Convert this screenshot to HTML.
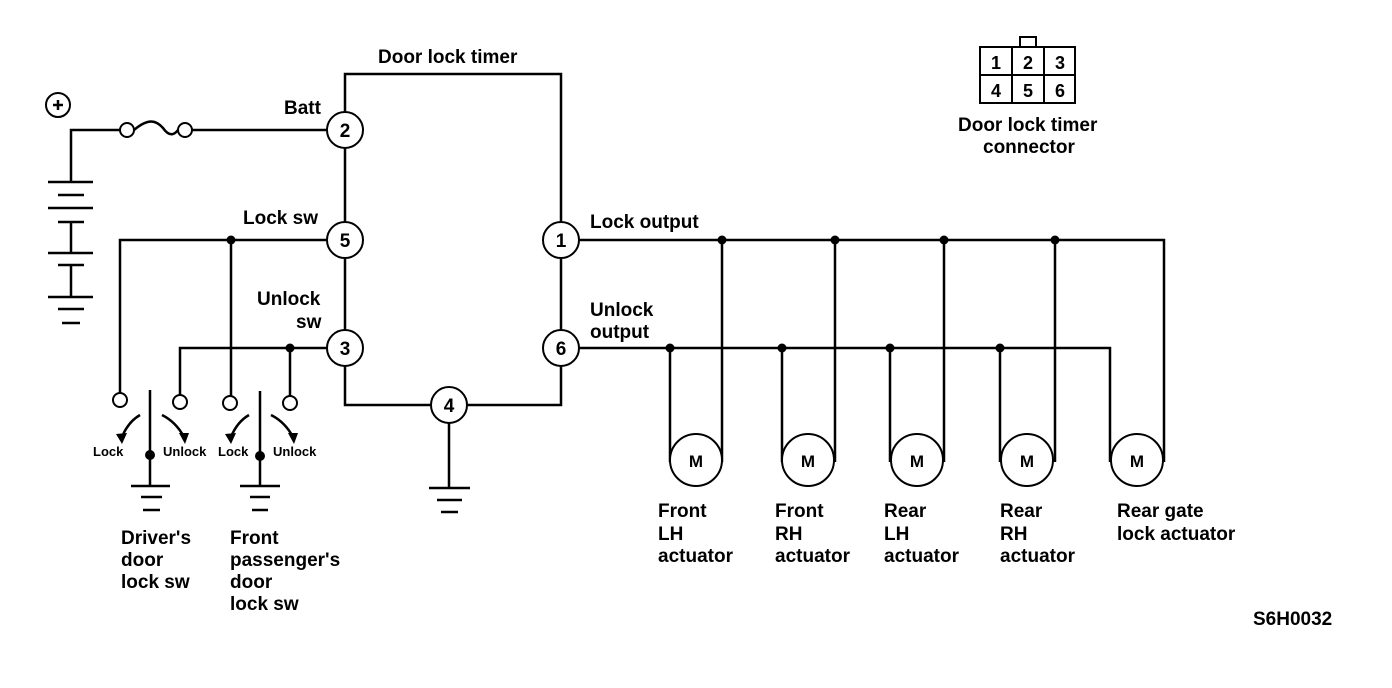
<!DOCTYPE html>
<html><head><meta charset="utf-8"><style>
html,body{margin:0;padding:0;background:#fff;}
svg{display:block;}
text{font-family:"Liberation Sans",sans-serif;font-size:19px;font-weight:bold;fill:#000;}
.s{font-size:13px;}
</style></head><body>
<svg width="1392" height="688" viewBox="0 0 1392 688" xmlns="http://www.w3.org/2000/svg">
<g stroke="#000" stroke-width="2.5" fill="none">
<polyline points="345,112 345,74 561,74 561,222"/>
<line x1="345" y1="148" x2="345" y2="222"/>
<line x1="345" y1="258" x2="345" y2="330"/>
<polyline points="345,366 345,405 431,405"/>
<polyline points="561,366 561,405 467,405"/>
<line x1="561" y1="258" x2="561" y2="330"/>
<line x1="449" y1="423" x2="449" y2="488"/>
<line x1="429" y1="488" x2="470" y2="488"/>
<line x1="437" y1="500" x2="462" y2="500"/>
<line x1="441" y1="512" x2="458" y2="512"/>
<polyline points="120,130 71,130 71,182"/>
<line x1="327" y1="130" x2="192" y2="130"/>
<path d="M134,130 C148,118 156,120 163,128 C170,138 175,134 178,130"/>
<line x1="48" y1="182" x2="93" y2="182"/>
<line x1="58" y1="195" x2="84" y2="195"/>
<line x1="48" y1="208" x2="93" y2="208"/>
<line x1="58" y1="222" x2="84" y2="222"/>
<line x1="71" y1="222" x2="71" y2="253"/>
<line x1="48" y1="253" x2="93" y2="253"/>
<line x1="58" y1="265" x2="84" y2="265"/>
<line x1="71" y1="265" x2="71" y2="297"/>
<line x1="48" y1="297" x2="93" y2="297"/>
<line x1="58" y1="309" x2="84" y2="309"/>
<line x1="62" y1="323" x2="80" y2="323"/>
<polyline points="327,240 120,240 120,393"/>
<line x1="231" y1="240" x2="231" y2="396"/>
<polyline points="327,348 180,348 180,395"/>
<line x1="290" y1="348" x2="290" y2="396"/>
<line x1="150" y1="390" x2="150" y2="486"/>
<line x1="260" y1="391" x2="260" y2="486"/>
<line x1="131" y1="486" x2="170" y2="486"/>
<line x1="141" y1="497" x2="162" y2="497"/>
<line x1="143" y1="510" x2="160" y2="510"/>
<line x1="240" y1="486" x2="280" y2="486"/>
<line x1="250" y1="497" x2="270" y2="497"/>
<line x1="252" y1="510" x2="268" y2="510"/>
<path d="M140,415 Q128,422 122,437"/>
<path d="M162,415 Q176,422 184,437"/>
<path d="M249,415 Q237,422 231,437"/>
<path d="M271,415 Q285,422 293,437"/>
<polyline points="579,240 1164,240 1164,462"/>
<polyline points="579,348 1110,348 1110,462"/>
<line x1="670" y1="348" x2="670" y2="462"/><line x1="722" y1="240" x2="722" y2="462"/>
<line x1="782" y1="348" x2="782" y2="462"/><line x1="835" y1="240" x2="835" y2="462"/>
<line x1="890" y1="348" x2="890" y2="462"/><line x1="944" y1="240" x2="944" y2="462"/>
<line x1="1000" y1="348" x2="1000" y2="462"/><line x1="1055" y1="240" x2="1055" y2="462"/>
</g>
<g stroke="#000" stroke-width="2" fill="#fff">
<circle cx="58" cy="105" r="12"/>
<circle cx="127" cy="130" r="7"/><circle cx="185" cy="130" r="7"/>
<circle cx="345" cy="130" r="18"/><circle cx="345" cy="240" r="18"/><circle cx="345" cy="348" r="18"/>
<circle cx="561" cy="240" r="18"/><circle cx="561" cy="348" r="18"/><circle cx="449" cy="405" r="18"/>
<circle cx="120" cy="400" r="7"/><circle cx="180" cy="402" r="7"/>
<circle cx="230" cy="403" r="7"/><circle cx="290" cy="403" r="7"/>
<circle cx="696" cy="460" r="26"/><circle cx="808" cy="460" r="26"/><circle cx="917" cy="460" r="26"/>
<circle cx="1027" cy="460" r="26"/><circle cx="1137" cy="460" r="26"/>
<rect x="980" y="47" width="95" height="56"/>
<rect x="1020" y="37" width="16" height="10"/>
<line x1="1012" y1="47" x2="1012" y2="103"/><line x1="1044" y1="47" x2="1044" y2="103"/>
<line x1="980" y1="75" x2="1075" y2="75"/>
</g>
<g fill="#000">
<path d="M53,105 h10 M58,100 v10" stroke="#000" stroke-width="2.5"/>
<circle cx="231" cy="240" r="4.5"/><circle cx="290" cy="348" r="4.5"/>
<circle cx="150" cy="455" r="5"/><circle cx="260" cy="456" r="5"/>
<circle cx="722" cy="240" r="4.5"/><circle cx="835" cy="240" r="4.5"/><circle cx="944" cy="240" r="4.5"/><circle cx="1055" cy="240" r="4.5"/>
<circle cx="670" cy="348" r="4.5"/><circle cx="782" cy="348" r="4.5"/><circle cx="890" cy="348" r="4.5"/><circle cx="1000" cy="348" r="4.5"/>
<path d="M116,434 L122,444 L127,433 Z"/><path d="M179,433 L185,444 L189,433 Z"/>
<path d="M225,434 L231,444 L236,433 Z"/><path d="M288,433 L294,444 L298,433 Z"/>
</g>
<g text-anchor="middle">
<text x="345" y="137">2</text><text x="345" y="247">5</text><text x="345" y="355">3</text>
<text x="561" y="247">1</text><text x="561" y="355">6</text><text x="449" y="412">4</text>
<text x="696" y="467" style="font-size:17px">M</text><text x="808" y="467" style="font-size:17px">M</text>
<text x="917" y="467" style="font-size:17px">M</text><text x="1027" y="467" style="font-size:17px">M</text>
<text x="1137" y="467" style="font-size:17px">M</text>
<text x="996" y="69" style="font-size:18px">1</text><text x="1028" y="69" style="font-size:18px">2</text><text x="1060" y="69" style="font-size:18px">3</text>
<text x="996" y="97" style="font-size:18px">4</text><text x="1028" y="97" style="font-size:18px">5</text><text x="1060" y="97" style="font-size:18px">6</text>
</g>
<text x="378" y="63">Door lock timer</text>
<text x="284" y="114">Batt</text>
<text x="243" y="224">Lock sw</text>
<text x="257" y="305">Unlock</text><text x="296" y="328">sw</text>
<text x="590" y="228">Lock output</text>
<text x="590" y="316">Unlock</text><text x="590" y="338">output</text>
<text x="958" y="131">Door lock timer</text><text x="983" y="153">connector</text>
<text class="s" x="93" y="456">Lock</text><text class="s" x="163" y="456">Unlock</text>
<text class="s" x="218" y="456">Lock</text><text class="s" x="273" y="456">Unlock</text>
<text x="121" y="544">Driver's</text><text x="121" y="566">door</text><text x="121" y="588">lock sw</text>
<text x="230" y="544">Front</text><text x="230" y="566">passenger's</text><text x="230" y="588">door</text><text x="230" y="610">lock sw</text>
<text x="658" y="517">Front</text><text x="658" y="540">LH</text><text x="658" y="562">actuator</text>
<text x="775" y="517">Front</text><text x="775" y="540">RH</text><text x="775" y="562">actuator</text>
<text x="884" y="517">Rear</text><text x="884" y="540">LH</text><text x="884" y="562">actuator</text>
<text x="1000" y="517">Rear</text><text x="1000" y="540">RH</text><text x="1000" y="562">actuator</text>
<text x="1117" y="517">Rear gate</text><text x="1117" y="540">lock actuator</text>
<text x="1253" y="625">S6H0032</text>
</svg>
</body></html>
